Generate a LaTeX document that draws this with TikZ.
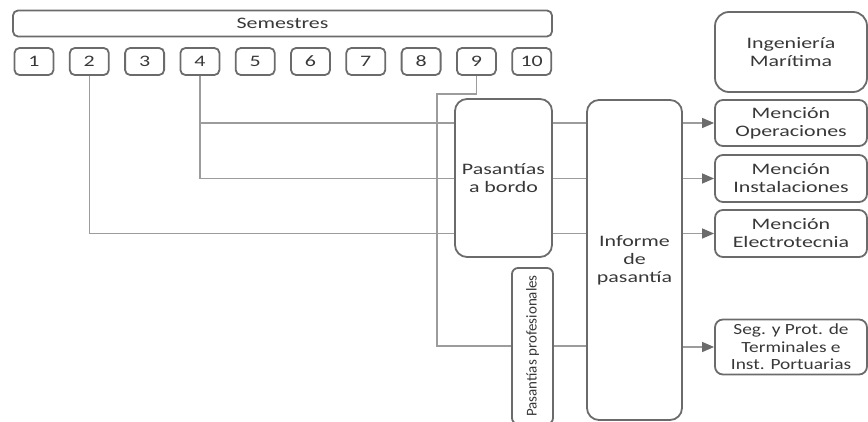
\documentclass[tikz,border=0pt]{standalone}
\usepackage{fontspec}
\setmainfont{Carlito}[FakeStretch=1.37]
\newfontfamily\narrowfont{Carlito}
\newfontfamily\segfont{Carlito}[FakeStretch=1.25]
\usetikzlibrary{arrows.meta}
\definecolor{boxgray}{HTML}{6B6B6B}
\definecolor{linegray}{HTML}{9C9C9C}
\definecolor{textgray}{HTML}{383838}

\begin{document}
\begin{tikzpicture}[x=1pt,y=-1pt]
    \useasboundingbox (0,0) rectangle (868,422);

        \begin{scope}[every node/.style={draw=boxgray,line width=1.8pt,rounded corners=5pt,text=textgray,align=center,inner sep=0pt,font=\fontsize{16}{18}\selectfont}]
            \node[minimum width=539pt,minimum height=26pt] (sem) at (282.5,23.5) {Semestres};
            \foreach \i in {1,...,10}
                \node[minimum width=39pt,minimum height=27pt] (\i) at ({34+55.3*(\i-1)},61.5) {\i};
            \node[minimum width=152pt,minimum height=80pt,rounded corners=14pt] (ing) at (791,52) {Ingeniería\\Marítima};
            \node[minimum width=152pt,minimum height=46pt,rounded corners=8pt] (oper) at (791,123) {Mención\\Operaciones};
            \node[minimum width=152pt,minimum height=47pt,rounded corners=8pt] (inst) at (791,178.5) {Mención\\Instalaciones};
            \node[minimum width=152pt,minimum height=47pt,rounded corners=8pt] (elec) at (791,233.5) {Mención\\Electrotecnia};
            \node[minimum width=152pt,minimum height=55pt,rounded corners=8pt,font=\segfont\fontsize{15.5}{17.5}\selectfont] (seg) at (791,347) {Seg. y Prot. de\\Terminales e\\Inst. Portuarias};
            \node[minimum width=97pt,minimum height=158pt,rounded corners=12pt] (bordo) at (503.5,178) {Pasantías\\a bordo};
            \node[minimum width=95pt,minimum height=320pt,rounded corners=12pt] (inf) at (634.5,260) {Informe\\de\\pasantía};
            \node[minimum width=41pt,minimum height=156pt,rounded corners=6pt] (prof) at (532.5,346) {};
            \node[draw=none,rotate=90,font=\narrowfont\fontsize{15}{18}\selectfont] (proftext) at (prof.center) {Pasantías profesionales};
        \end{scope}

        \begin{scope}[linegray,line width=1.3pt]
            \coordinate (bend) at (437,94);
            \draw (2.south) |- (bordo.west |- elec);
            \draw (4.south) |- (bordo.west |- inst);
            \draw (4.south |- oper) -- (bordo.west |- oper);
            \draw (9.south) |- (bend) |- (prof.west);
            \foreach \m in {oper,inst,elec}
                \draw (bordo.east |- \m) -- (inf.west |- \m);
            \draw (prof.east) -- (inf.west |- prof);
            \foreach \m in {oper,inst,elec,seg}
                \draw[-{Triangle[length=12pt,width=10pt,color=boxgray]}] (inf.east |- \m) -- (\m.west);
        \end{scope}

    \end{tikzpicture}
\end{document}
